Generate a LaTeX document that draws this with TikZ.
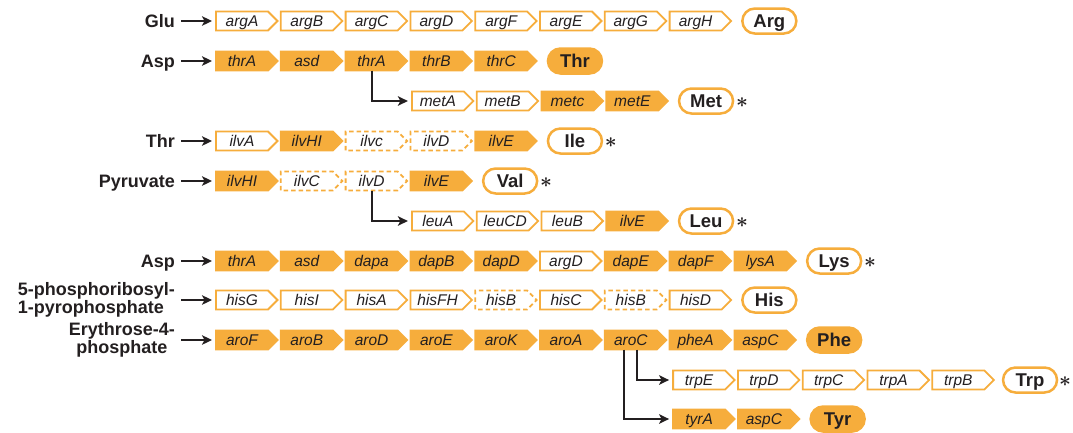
\documentclass[tikz,border=0pt]{standalone}
\usepackage{fontspec}
\setmainfont{Liberation Sans}
\usetikzlibrary{shapes.symbols,shapes.misc,arrows.meta}
\usetikzlibrary{positioning}
\definecolor{amber}{RGB}{246,173,60}
\definecolor{ink}{RGB}{35,31,32}
\tikzset{
    gene/.style={
           signal, signal to=east, signal pointer angle=90,
           draw=amber, line width=1.8pt, outer sep=0pt,
           minimum height=19pt, text width=38pt, align=center,
           inner xsep=7pt, inner ysep=0pt,
           text height=11pt, text depth=0pt,
           font=\fontsize{15.5}{16}\selectfont\itshape, text=ink,
           },
    opengene/.style={gene, fill=white},
    fullgene/.style={gene, fill=amber},
    dashgene/.style={gene, fill=white, dash pattern=on 4.5pt off 3pt},
}
\tikzset{
    prod/.style={
           rounded rectangle, draw=amber, line width=2.5pt,
           minimum width=54pt, minimum height=25pt, inner sep=0pt,
           text height=13pt, text depth=0pt,
           font=\fontsize{18.5}{18}\selectfont\bfseries, text=ink,
           },
    prodfull/.style={prod, fill=amber},
    starnote/.style={inner sep=0pt, yshift=-2pt,
           font=\fontsize{21}{21}\selectfont\boldmath, text=ink},
    source/.style={anchor=east, inner sep=0pt,
           font=\fontsize{18}{13}\selectfont\bfseries, text=ink},
    onerow/.style={source, text height=13pt, text depth=0pt},
    feed/.style={-{Stealth[length=10pt,width=9.5pt,inset=2.5pt]},
           line width=1.9pt, draw=ink, shorten <=6pt, shorten >=4pt},
    branch/.style={feed, shorten <=0pt},
}
\begin{document}
\begin{tikzpicture}[x=1pt,y=-1pt]
\useasboundingbox (0,0) rectangle (1073,432);
% arginine
\node[onerow](glu) at (175,21){Glu};
\node[opengene,anchor=west](argA) at (216,21){argA};
\node[opengene,right=3.3pt of argA](argB){argB};
\node[opengene,right=3.3pt of argB](argC){argC};
\node[opengene,right=3.3pt of argC](argD){argD};
\node[opengene,right=3.3pt of argD](argF){argF};
\node[opengene,right=3.3pt of argF](argE){argE};
\node[opengene,right=3.3pt of argE](argG){argG};
\node[opengene,right=3.3pt of argG](argH){argH};
\node[prod,right=10pt of argH](arg){Arg};
\draw[feed] (glu.east) -- (argA.west);
% threonine
\node[onerow](asp1) at (175,61){Asp};
\node[fullgene,anchor=west](thrA1) at (216,61){thrA};
\node[fullgene,right=3.3pt of thrA1](asd1){asd};
\node[fullgene,right=3.3pt of asd1](thrA2){thrA};
\node[fullgene,right=3.3pt of thrA2](thrB){thrB};
\node[fullgene,right=3.3pt of thrB](thrC){thrC};
\node[prodfull,right=10pt of thrC](thr){Thr};
\draw[feed] (asp1.east) -- (thrA1.west);
% methionine
\node[opengene,anchor=west](metA) at (411.9,101){metA};
\node[opengene,right=3.3pt of metA](metB){metB};
\node[fullgene,right=3.3pt of metB](metc){metc};
\node[fullgene,right=3.3pt of metc](metE){metE};
\node[prod,right=10pt of metE](met){Met};
\node[starnote,right=1.5pt of met](metstar){$\ast$};
\draw[branch] (thrA2.south) |- (metA.west);
% isoleucine
\node[onerow](thrsrc) at (175,141){Thr};
\node[opengene,anchor=west](ilvA) at (216,141){ilvA};
\node[fullgene,right=3.3pt of ilvA](ilvHI1){ilvHI};
\node[dashgene,right=3.3pt of ilvHI1](ilvc){ilvc};
\node[dashgene,right=3.3pt of ilvc](ilvD1){ilvD};
\node[fullgene,right=3.3pt of ilvD1](ilvE1){ilvE};
\node[prod,right=10pt of ilvE1](ile){Ile};
\node[starnote,right=1.5pt of ile](ilestar){$\ast$};
\draw[feed] (thrsrc.east) -- (ilvA.west);
% valine
\node[onerow](pyr) at (175,181){Pyruvate};
\node[fullgene,anchor=west](ilvHI2) at (216,181){ilvHI};
\node[dashgene,right=3.3pt of ilvHI2](ilvC){ilvC};
\node[dashgene,right=3.3pt of ilvC](ilvD2){ilvD};
\node[fullgene,right=3.3pt of ilvD2](ilvE2){ilvE};
\node[prod,right=10pt of ilvE2](val){Val};
\node[starnote,right=1.5pt of val](valstar){$\ast$};
\draw[feed] (pyr.east) -- (ilvHI2.west);
% leucine
\node[opengene,anchor=west](leuA) at (411.9,221){leuA};
\node[opengene,right=3.3pt of leuA](leuCD){leuCD};
\node[opengene,right=3.3pt of leuCD](leuB){leuB};
\node[fullgene,right=3.3pt of leuB](ilvE3){ilvE};
\node[prod,right=10pt of ilvE3](leu){Leu};
\node[starnote,right=1.5pt of leu](leustar){$\ast$};
\draw[branch] (ilvD2.south) |- (leuA.west);
% lysine
\node[onerow](asp2) at (175,261){Asp};
\node[fullgene,anchor=west](thrA3) at (216,261){thrA};
\node[fullgene,right=3.3pt of thrA3](asd2){asd};
\node[fullgene,right=3.3pt of asd2](dapa){dapa};
\node[fullgene,right=3.3pt of dapa](dapB){dapB};
\node[fullgene,right=3.3pt of dapB](dapD){dapD};
\node[opengene,right=3.3pt of dapD](argD2){argD};
\node[fullgene,right=3.3pt of argD2](dapE){dapE};
\node[fullgene,right=3.3pt of dapE](dapF){dapF};
\node[fullgene,right=3.3pt of dapF](lysA){lysA};
\node[prod,right=10pt of lysA](lys){Lys};
\node[starnote,right=1.5pt of lys](lysstar){$\ast$};
\draw[feed] (asp2.east) -- (thrA3.west);
% histidine
\node[source,align=left](prpp) at (175,300){5-phosphoribosyl-\\1-pyrophosphate};
\node[opengene,anchor=west](hisG) at (216,300){hisG};
\node[opengene,right=3.3pt of hisG](hisI){hisI};
\node[opengene,right=3.3pt of hisI](hisA){hisA};
\node[opengene,right=3.3pt of hisA](hisFH){hisFH};
\node[dashgene,right=3.3pt of hisFH](hisB1){hisB};
\node[opengene,right=3.3pt of hisB1](hisC){hisC};
\node[dashgene,right=3.3pt of hisC](hisB2){hisB};
\node[opengene,right=3.3pt of hisB2](hisD){hisD};
\node[prod,right=10pt of hisD](his){His};
\draw[feed] (prpp.east) -- (hisG.west);
% phenylalanine
\node[source,align=center](ery) at (175,340){Erythrose-4-\\phosphate};
\node[fullgene,anchor=west](aroF) at (216,340){aroF};
\node[fullgene,right=3.3pt of aroF](aroB){aroB};
\node[fullgene,right=3.3pt of aroB](aroD){aroD};
\node[fullgene,right=3.3pt of aroD](aroE){aroE};
\node[fullgene,right=3.3pt of aroE](aroK){aroK};
\node[fullgene,right=3.3pt of aroK](aroA){aroA};
\node[fullgene,right=3.3pt of aroA](aroC){aroC};
\node[fullgene,right=3.3pt of aroC](pheA){pheA};
\node[fullgene,right=3.3pt of pheA](aspC1){aspC};
\node[prodfull,right=10pt of aspC1](phe){Phe};
\draw[feed] (ery.east) -- (aroF.west);
% tryptophan
\node[opengene,anchor=west](trpE) at (673.1,380){trpE};
\node[opengene,right=3.3pt of trpE](trpD){trpD};
\node[opengene,right=3.3pt of trpD](trpC){trpC};
\node[opengene,right=3.3pt of trpC](trpA){trpA};
\node[opengene,right=3.3pt of trpA](trpB){trpB};
\node[prod,right=8pt of trpB](trp){Trp};
\node[starnote,right=0.5pt of trp](trpstar){$\ast$};
\draw[branch] ([xshift=6.5pt]aroC.south) |- (trpE.west);
% tyrosine
\node[fullgene,anchor=west](tyrA) at (673.1,419){tyrA};
\node[fullgene,right=3.3pt of tyrA](aspC2){aspC};
\node[prodfull,right=10pt of aspC2](tyr){Tyr};
\draw[branch] ([xshift=-6.5pt]aroC.south) |- (tyrA.west);
\end{tikzpicture}
\end{document}
